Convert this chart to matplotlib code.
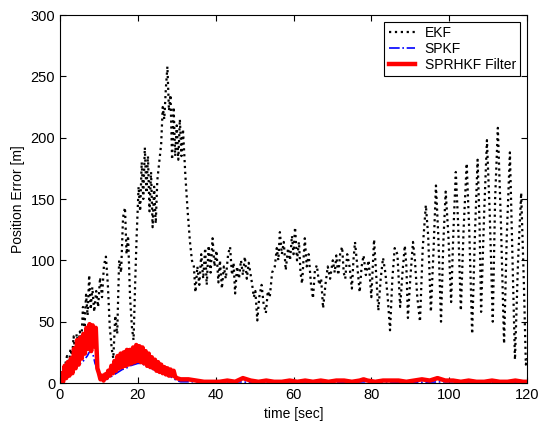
import numpy as np
import matplotlib
matplotlib.use('Agg')
import matplotlib.pyplot as plt

plt.rcParams['font.family'] = ['Liberation Sans', 'DejaVu Sans']

# EKF position error, vertices
ekf_t = [0, 0.7, 1.3, 1.8, 2.3, 2.7, 3.1, 3.5, 3.9, 4.3, 4.7, 5.1, 5.5, 5.9, 6.3, 6.7, 7.1, 7.5, 7.9, 8.3,
	8.8, 9.3, 9.8, 10.3, 10.8, 11.3, 11.8, 12.3, 12.8, 13.3, 13.7, 14.2, 14.7, 15.2, 15.7, 16.2, 16.7, 17.1, 17.5, 18.0,
	18.5, 18.9, 19.3, 19.7, 20.2, 20.6, 21.0, 21.4, 21.8, 22.2, 22.6, 23.0, 23.4, 23.8, 24.2, 24.6, 25.0, 25.5, 26.0, 26.4,
	26.8, 27.2, 27.6, 28.0, 28.4, 28.8, 29.2, 29.6, 30.0, 30.4, 30.8, 31.2, 31.6, 32.2, 32.8, 33.4, 33.9, 34.4, 34.8, 35.3,
	35.8, 36.3, 36.8, 37.3, 37.7, 38.2, 38.7, 39.2, 39.7, 40.2, 40.7, 41.1, 41.6, 42.1, 42.6, 43.2, 43.7, 44.2, 44.6, 45.0,
	45.5, 46.0, 46.5, 47.0, 47.5, 48.0, 48.5, 49.3, 49.8, 50.2, 50.7, 51.2, 51.8, 52.3, 52.9, 53.4, 53.9, 54.5, 55.2, 55.7,
	56.1, 56.5, 57.0, 57.5, 58.0, 58.6, 59.1, 59.6, 60.0, 60.4, 60.9, 61.4, 61.8, 62.2, 62.9, 63.4, 63.9, 64.5, 65.0, 65.5,
	66.0, 66.6, 67.1, 67.6, 68.2, 68.8, 69.4, 70.1, 70.6, 71.0, 71.5, 72.0, 72.5, 72.9, 73.3, 73.8, 74.4, 75.0, 75.4, 75.8,
	76.4, 77.0, 77.5, 78.0, 78.6, 79.3, 80.0, 80.7, 81.2, 81.8, 82.4, 83.0, 83.6, 84.2, 84.8, 85.4, 86.0, 86.7, 87.4, 88.0,
	88.6, 89.0, 89.4, 90.0, 90.7, 91.2, 91.8, 92.5, 93.2, 94.0, 94.6, 95.3, 96.0, 96.6, 97.2, 97.9, 98.5, 99.1, 99.8, 100.5,
	101.1, 101.7, 102.3, 103.0, 103.7, 104.5, 105.2, 105.9, 106.6, 107.3, 107.8, 108.2, 109.0, 109.7, 110.4, 111.2, 111.8, 112.5, 113.3, 114.1,
	114.8, 115.6, 116.2, 116.9, 117.7, 118.5, 119.2, 119.7, 120]
ekf_e = [2, 8, 14, 22, 15, 28, 20, 38, 26, 40, 30, 42, 35, 62, 45, 72, 55, 88, 60, 78,
	58, 75, 62, 86, 70, 96, 103, 80, 45, 28, 20, 55, 40, 100, 90, 135, 143, 105, 120, 70,
	45, 35, 80, 120, 160, 140, 180, 150, 192, 155, 185, 140, 172, 127, 160, 130, 165, 180, 195, 225,
	215, 240, 258, 222, 235, 182, 225, 185, 210, 182, 215, 185, 207, 170, 140, 115, 100, 95, 74, 95,
	80, 105, 85, 110, 80, 112, 90, 118, 95, 108, 82, 100, 77, 95, 85, 105, 111, 88, 98, 73,
	95, 85, 100, 88, 103, 85, 98, 82, 70, 75, 51, 70, 80, 65, 57, 75, 70, 90, 95, 110,
	100, 123, 105, 115, 92, 110, 100, 120, 105, 127, 100, 115, 90, 81, 118, 95, 105, 80, 69, 92,
	96, 80, 85, 61, 80, 95, 85, 100, 90, 104, 88, 106, 111, 90, 85, 105, 95, 77, 100, 115,
	95, 74, 95, 104, 88, 100, 70, 117, 90, 59, 85, 102, 90, 70, 43, 85, 110, 105, 62, 90,
	112, 95, 53, 85, 115, 100, 70, 50, 110, 145, 120, 58, 110, 161, 120, 50, 115, 156, 120, 66,
	125, 172, 130, 59, 125, 179, 120, 40, 120, 182, 130, 58, 140, 198, 140, 50, 150, 208, 130, 32,
	120, 188, 110, 19, 100, 155, 80, 15, 20]

# SPKF
spkf_t = [0, 1, 2, 3, 4, 5, 6, 7, 7.5, 8, 8.5, 9, 9.5, 10, 10.5, 11, 12, 13, 14, 15,
	16, 17, 18, 19, 20, 21, 22, 23, 24, 25, 26, 27, 28, 29, 30, 31, 35, 40, 45, 50,
	55, 60, 70, 80, 90, 100, 110, 120]
spkf_e = [1, 5, 8, 10, 13, 15, 18, 22, 25, 26, 23, 16, 12, 8, 5, 3, 3, 5, 7, 9,
	11, 12, 14, 15, 16, 16, 14, 13, 11, 10, 8, 7, 6, 4, 2, 1, 1, 0.5, 1, 0.5,
	0.5, 1, 0.5, 1, 0.5, 1, 0.5, 0.5]

# SPRHKF filter
sprhkf_t = [0, 0.4, 0.8, 1.2, 1.6, 2.0, 2.4, 2.8, 3.2, 3.6, 4.0, 4.4, 4.8, 5.2, 5.6, 6.0, 6.4, 6.8, 7.2, 7.6,
	8.0, 8.4, 8.8, 9.2, 9.6, 10.0, 10.4, 10.8, 11.2, 11.6, 12.0, 12.4, 12.8, 13.2, 13.6, 14.0, 14.4, 14.8, 15.2, 15.6,
	16.0, 16.4, 16.8, 17.2, 17.6, 18.0, 18.4, 18.8, 19.2, 19.6, 20.0, 20.4, 20.8, 21.2, 21.6, 22.0, 22.4, 22.8, 23.2, 23.6,
	24.0, 24.4, 24.8, 25.2, 25.6, 26.0, 26.4, 26.8, 27.2, 27.6, 28.0, 28.4, 28.8, 29.2, 29.6, 30.0, 31, 33, 35, 37,
	39, 41, 43, 45, 47, 49, 51, 53, 55, 57, 59, 61, 63, 65, 67, 69, 71, 73, 75, 77,
	78, 79, 81, 83, 85, 87, 89, 91, 93, 95, 97, 99, 101, 103, 105, 107, 109, 111, 113, 115,
	117, 119, 120]
sprhkf_e = [2, 8, 1, 14, 4, 17, 6, 20, 8, 28, 12, 35, 15, 37, 20, 40, 24, 45, 28, 48,
	26, 47, 30, 45, 12, 8, 3, 6, 2, 7, 4, 10, 6, 14, 8, 18, 10, 22, 12, 24,
	13, 25, 14, 27, 15, 27, 16, 29, 17, 31, 18, 30, 17, 29, 16, 26, 14, 24, 13, 21,
	12, 19, 10, 17, 9, 15, 8, 13, 7, 12, 6, 11, 6, 10, 5, 4, 3, 3, 2, 1,
	1, 1, 2, 1, 4, 2, 1, 2, 1, 1, 2, 1, 2, 1, 2, 1, 2, 2, 1, 2,
	3, 2, 1, 2, 2, 2, 1, 2, 3, 2, 4, 2, 2, 1, 2, 1, 1, 2, 1, 1,
	2, 1, 1]

fig = plt.figure(figsize=(5.38, 4.25), dpi=100)
ax = fig.add_axes([0.1115, 0.0988, 0.8681, 0.8659])
ax.plot(ekf_t, ekf_e, color='black', linestyle=':', linewidth=1.6, label='EKF')
ax.plot(spkf_t, spkf_e, color='blue', linestyle='-.', linewidth=1.2, label='SPKF')
ax.plot(sprhkf_t, sprhkf_e, color='red', linestyle='-', linewidth=3.2, label='SPRHKF Filter')

ax.set_xlim(0, 120)
ax.set_ylim(0, 300)
ax.set_xticks(np.arange(0, 121, 20))
ax.set_yticks(np.arange(0, 301, 50))
ax.tick_params(direction='in', top=True, right=True, length=4, labelsize=10.5, width=0.8)
for s in ax.spines.values():
	s.set_linewidth(0.8)
ax.set_xlabel('time [sec]', fontsize=10)
ax.set_ylabel('Position Error [m]', fontsize=10)

leg = ax.legend(loc='upper right', fontsize=10, fancybox=False, edgecolor='black',
	framealpha=1, borderaxespad=0.5, handlelength=1.9, handletextpad=0.7,
	labelspacing=0.15, borderpad=0.3)
leg.get_frame().set_linewidth(0.8)

plt.savefig('out.png', dpi=100)
